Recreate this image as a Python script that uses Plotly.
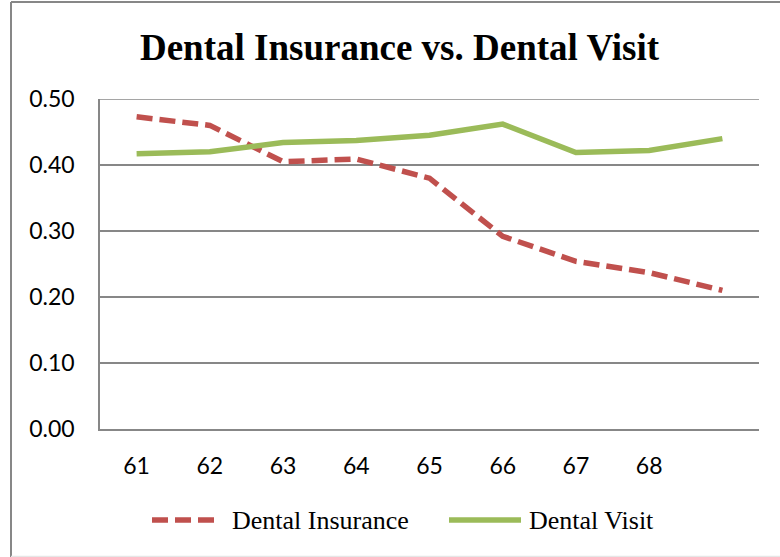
import plotly.graph_objects as go

# Age groups along the category axis (last point has no printed label)
positions = list(range(9))
tick_labels = ["61", "62", "63", "64", "65", "66", "67", "68"]

dental_insurance = [0.473, 0.460, 0.405, 0.409, 0.380, 0.292, 0.254, 0.237, 0.210]
dental_visit = [0.417, 0.420, 0.434, 0.437, 0.445, 0.462, 0.419, 0.422, 0.440]

y_ticks = [0.0, 0.1, 0.2, 0.3, 0.4, 0.5]

RED = "#C0504D"
GREEN = "#9BBB59"
GRID = "#878787"

W, H = 780, 557
L, R, T, B = 100, 21, 99, 128
PW, PH = W - L - R, H - T - B


def px_x(px):
    return (px - L) / PW


def px_y(py):
    return (H - B - py) / PH


fig = go.Figure()
fig.add_trace(go.Scatter(
    x=positions, y=dental_insurance, mode="lines", name="Dental Insurance",
    line=dict(color=RED, width=5.5, dash="16px,7px"), showlegend=False,
))
fig.add_trace(go.Scatter(
    x=positions, y=dental_visit, mode="lines", name="Dental Visit",
    line=dict(color=GREEN, width=5.5), showlegend=False,
))

shapes = []
annotations = []

# Top gridline sits on the edge of the value range, so draw it explicitly
shapes.append(dict(type="line", xref="paper", yref="y", layer="below",
                   x0=0, x1=1, y0=y_ticks[-1], y1=y_ticks[-1],
                   line=dict(color=GRID, width=1.5)))

# Legend row below the axis
legend_items = [
    ("Dental Insurance", RED, "16px,7px", 152, 215, 230),
    ("Dental Visit", GREEN, "solid", 449, 521, 527),
]
for label, color, dash, x0, x1, tx in legend_items:
    shapes.append(dict(type="line", xref="paper", yref="paper",
                       x0=px_x(x0), x1=px_x(x1), y0=px_y(520), y1=px_y(520),
                       line=dict(color=color, width=5.5, dash=dash)))
    annotations.append(dict(text=label, xref="paper", yref="paper",
                            x=px_x(tx), y=px_y(520), xanchor="left", yanchor="middle",
                            showarrow=False,
                            font=dict(family="Liberation Serif", size=26, color="black")))

# Chart area frame
shapes.append(dict(type="line", xref="paper", yref="paper",
                   x0=px_x(11), x1=px_x(11), y0=px_y(2), y1=px_y(557),
                   line=dict(color=GRID, width=2)))
shapes.append(dict(type="line", xref="paper", yref="paper",
                   x0=px_x(11), x1=px_x(790), y0=px_y(2), y1=px_y(2),
                   line=dict(color=GRID, width=2)))
shapes.append(dict(type="line", xref="paper", yref="paper",
                   x0=px_x(11), x1=px_x(790), y0=px_y(556.5), y1=px_y(556.5),
                   line=dict(color="#E6E6E6", width=1.5)))

fig.update_layout(
    width=W, height=H,
    margin=dict(l=L, r=R, t=T, b=B),
    paper_bgcolor="white", plot_bgcolor="white",
    title=dict(text="<b>Dental Insurance vs. Dental Visit</b>",
               x=399.5 / W, xanchor="center", xref="container",
               y=1 - 47 / H, yanchor="middle", yref="container",
               font=dict(family="Liberation Serif", size=37, color="black")),
    xaxis=dict(range=[-0.5, 8.5], tickvals=positions[:len(tick_labels)],
               ticktext=tick_labels, showgrid=False, zeroline=False,
               showline=True, linecolor=GRID, linewidth=1.5, ticks="",
               ticklabelstandoff=16,
               tickfont=dict(family="Lato", size=23, color="black")),
    yaxis=dict(range=[0, 0.5], tickvals=y_ticks, tickformat=".2f",
               showgrid=True, gridcolor=GRID, gridwidth=1.5, zeroline=False,
               showline=True, linecolor=GRID, linewidth=1.5, ticks="",
               ticklabelstandoff=19,
               tickfont=dict(family="Lato", size=23, color="black")),
    shapes=shapes,
    annotations=annotations,
)

fig.write_html("out.html")
